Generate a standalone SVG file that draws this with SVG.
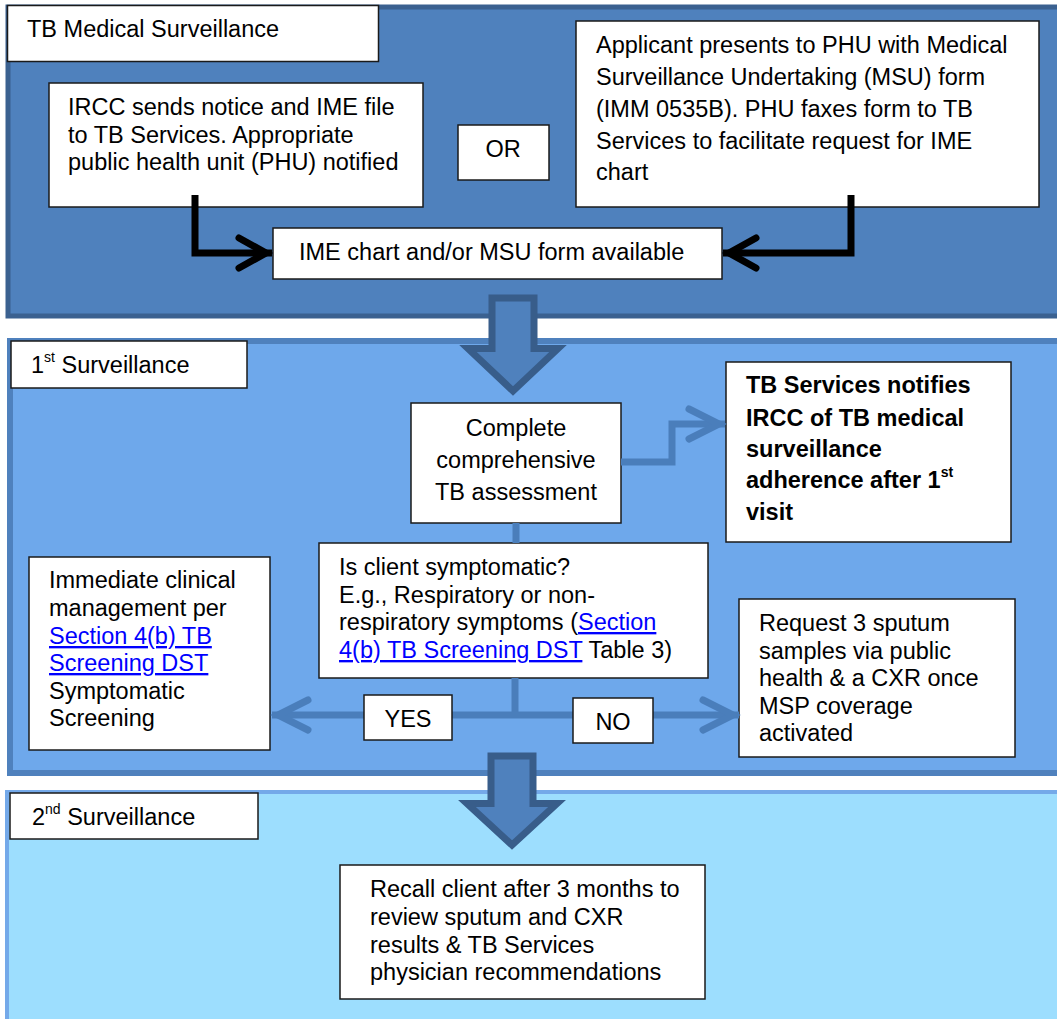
<svg xmlns="http://www.w3.org/2000/svg" width="1057" height="1019" viewBox="0 0 1057 1019">
<style>
text{font-family:"Liberation Sans",Arial,sans-serif;font-size:23.5px;fill:#000}
.b{font-weight:bold}
.box{fill:#fff;stroke:#1a1a1a;stroke-width:1.5}
.lnk{fill:#0000ff;text-decoration:underline}
.sup{font-size:14px}
.cb{fill:none;stroke:#000;stroke-width:7;stroke-linejoin:miter}
.cu{fill:none;stroke:#4A7EBB;stroke-width:7;stroke-linejoin:miter}
.blk{fill:#4F81BD;stroke:#385D8A;stroke-width:7;stroke-linejoin:miter}
</style>
<defs>
<marker id="ahK" markerUnits="userSpaceOnUse" viewBox="-45 -22 50 44" markerWidth="50" markerHeight="44" refX="0" refY="0" orient="auto">
<path d="M-33,-15 L-6,0 L-33,15" fill="none" stroke="#000" stroke-width="7" stroke-linecap="round"/>
</marker>
<marker id="ahU" markerUnits="userSpaceOnUse" viewBox="-45 -22 50 44" markerWidth="50" markerHeight="44" refX="0" refY="0" orient="auto">
<path d="M-36,-15 L-6,0 L-36,15" fill="none" stroke="#4A7EBB" stroke-width="7" stroke-linecap="round"/>
</marker>
</defs>
<rect width="1057" height="1019" fill="#fff"/>
<g id="sections">
<rect id="sec1" x="8" y="7" width="1060" height="309" fill="#4F81BD" stroke="#3B6190" stroke-width="5"/>
<rect id="sec2" x="10" y="341" width="1060" height="432" fill="#6EA8EB" stroke="#4F81BD" stroke-width="6"/>
<rect id="sec3" x="7" y="792" width="1060" height="240" fill="#9DDEFE" stroke="#74A9E9" stroke-width="4"/>
</g>
<g id="block-arrows">
<polygon id="barrow1" class="blk" points="492,298 534,298 534,348.5 558,348.5 513,391 468,348.5 492,348.5"/>
<polygon id="barrow2" class="blk" points="491,756 533,756 533,803.5 557,803.5 512,845 467,803.5 491,803.5"/>
</g>
<g id="title1"><rect class="box" x="7.5" y="5.5" width="371" height="56"/><text x="27" y="37">TB Medical Surveillance</text></g>
<g id="ircc"><rect class="box" x="49" y="83" width="374" height="124"/>
<text x="68" y="115">IRCC sends notice and IME file</text>
<text x="68" y="143">to TB Services. Appropriate</text>
<text x="68" y="170">public health unit (PHU) notified</text></g>
<g id="or"><rect class="box" x="458" y="125" width="91" height="55"/><text x="503" y="157" text-anchor="middle">OR</text></g>
<g id="applicant"><rect class="box" x="576" y="21" width="463" height="186"/>
<text x="596" y="53">Applicant presents to PHU with Medical</text>
<text x="596" y="85">Surveillance Undertaking (MSU) form</text>
<text x="596" y="117">(IMM 0535B). PHU faxes form to TB</text>
<text x="596" y="149">Services to facilitate request for IME</text>
<text x="596" y="180">chart</text></g>
<g id="ime"><rect class="box" x="273" y="228" width="449" height="51"/><text x="299" y="260">IME chart and/or MSU form available</text></g>
<g id="title2"><rect class="box" x="11" y="341" width="236" height="47"/><text x="31" y="373">1<tspan class="sup" dy="-11">st</tspan><tspan dy="11"> Surveillance</tspan></text></g>
<g id="complete"><rect class="box" x="411" y="403" width="210" height="120"/>
<text x="516" y="436" text-anchor="middle">Complete</text>
<text x="516" y="468" text-anchor="middle">comprehensive</text>
<text x="516" y="500" text-anchor="middle">TB assessment</text></g>
<g id="notify"><rect class="box" x="726" y="362" width="285" height="180"/>
<text class="b" x="746" y="393">TB Services notifies</text>
<text class="b" x="746" y="426">IRCC of TB medical</text>
<text class="b" x="746" y="457">surveillance</text>
<text class="b" x="746" y="488">adherence after 1<tspan class="sup" dy="-11">st</tspan></text>
<text class="b" x="746" y="520">visit</text></g>
<g id="question"><rect class="box" x="319" y="543" width="389" height="135"/>
<text x="339" y="575">Is client symptomatic?</text>
<text x="339" y="603">E.g., Respiratory or non-</text>
<text x="339" y="630">respiratory symptoms (<tspan class="lnk">Section</tspan></text>
<text x="339" y="658"><tspan class="lnk">4(b) TB Screening DST</tspan> Table 3)</text></g>
<g id="immediate"><rect class="box" x="29" y="557" width="241" height="193"/>
<text x="49" y="588">Immediate clinical</text>
<text x="49" y="616">management per</text>
<text x="49" y="644" class="lnk">Section 4(b) TB</text>
<text x="49" y="671" class="lnk">Screening DST</text>
<text x="49" y="699">Symptomatic</text>
<text x="49" y="726">Screening</text></g>
<g id="request"><rect class="box" x="739" y="599" width="276" height="158"/>
<text x="759" y="631">Request 3 sputum</text>
<text x="759" y="658.5">samples via public</text>
<text x="759" y="686">health &amp; a CXR once</text>
<text x="759" y="713.5">MSP coverage</text>
<text x="759" y="741">activated</text></g>
<g id="connectors">
<path class="cb" d="M195,195 V253 H272" marker-end="url(#ahK)"/>
<path class="cb" d="M851,195 V253 H723" marker-end="url(#ahK)"/>
<path class="cu" d="M621,462 H672 V424 H725" marker-end="url(#ahU)"/>
<path class="cu" d="M516,523 V543"/>
<path class="cu" d="M515,678 V715"/>
<path class="cu" d="M515,715 H272" marker-end="url(#ahU)"/>
<path class="cu" d="M515,715 H739" marker-end="url(#ahU)"/>
</g>
<g id="yes"><rect class="box" x="364" y="695" width="88" height="45"/><text x="408" y="727" text-anchor="middle">YES</text></g>
<g id="no"><rect class="box" x="573" y="698" width="80" height="45"/><text x="613" y="730" text-anchor="middle">NO</text></g>
<g id="title3"><rect class="box" x="10" y="793" width="248" height="46"/><text x="32" y="825">2<tspan class="sup" dy="-11">nd</tspan><tspan dy="11"> Surveillance</tspan></text></g>
<g id="recall"><rect class="box" x="340" y="865" width="365" height="134"/>
<text x="370" y="897">Recall client after 3 months to</text>
<text x="370" y="925">review sputum and CXR</text>
<text x="370" y="953">results &amp; TB Services</text>
<text x="370" y="980">physician recommendations</text></g>
</svg>
